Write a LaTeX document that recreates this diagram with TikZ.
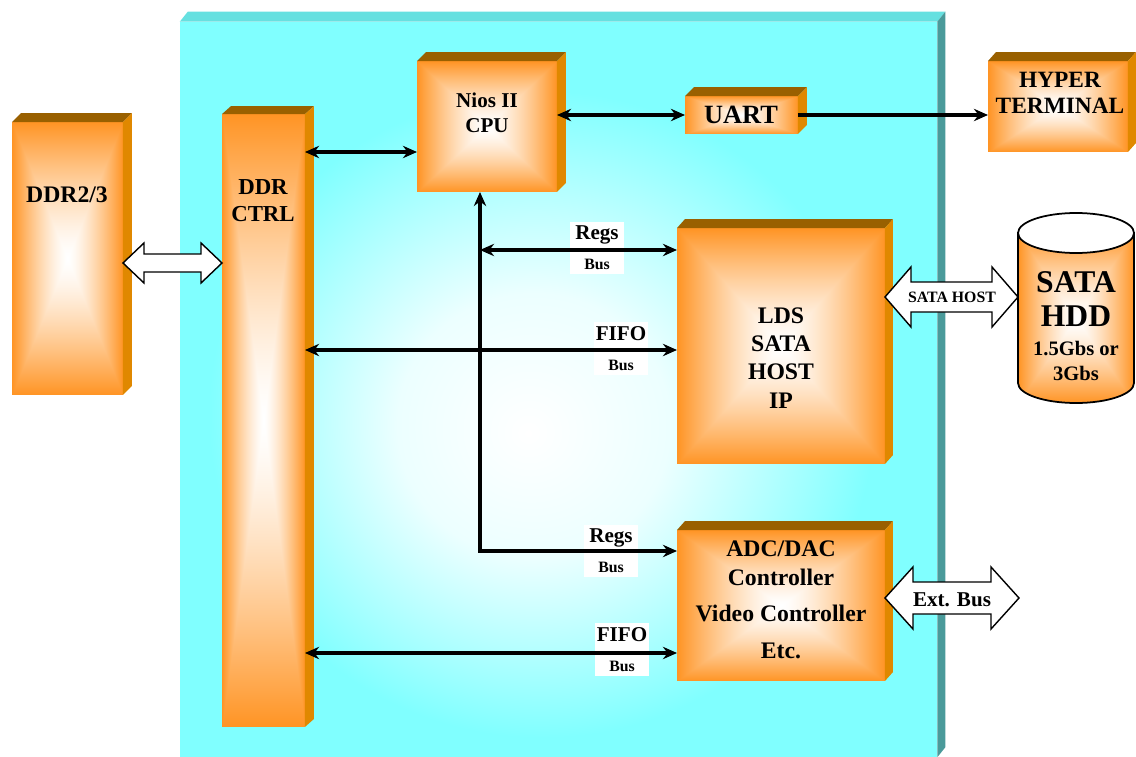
\documentclass[tikz,border=0pt]{standalone}
\usepackage{fontspec}
\setmainfont{Liberation Serif}
\usetikzlibrary{arrows.meta,calc}

\definecolor{boardcyan}{HTML}{80FFFF}
\definecolor{boardtop}{HTML}{66E0E0}
\definecolor{boardside}{HTML}{4A9A9A}
\definecolor{boxtop}{HTML}{996000}
\definecolor{boxside}{HTML}{E08800}

% orange faces, white in the middle
\pgfdeclarefunctionalshading{boxshade}{\pgfpoint{-50bp}{-50bp}}{\pgfpoint{50bp}{50bp}}{}{
  abs exch abs 2 copy lt {exch} if pop
  25 div dup 1 gt {pop 1} if 1.4 exp
  1 exch dup 0.42 mul 1 exch sub exch 0.86 mul 1 exch sub
}
\pgfdeclareradialshading{boardshade}{\pgfpoint{-2bp}{-3bp}}{color(0bp)=(white); color(9bp)=(white!85!boardcyan); color(22bp)=(boardcyan); color(50bp)=(boardcyan)}

% top and side faces of a block
\newcommand{\threed}[5]{%
  \fill[#4] (#1.north west) -- ++(#2,#3) -- ([shift={(#2,#3)}]#1.north east) -- (#1.north east) -- cycle;
  \fill[#5] (#1.north east) -- ++(#2,#3) -- ([shift={(#2,#3)}]#1.south east) -- (#1.south east) -- cycle;}

% white double arrow: from, to, head length, half head, half shaft
\newcommand{\fatarrow}[5]{%
  \draw[fatline] (#1) -- ($(#1)+(#3,-#4)$) -- ($(#1)+(#3,-#5)$) -- ($(#2)+(-#3,-#5)$) -- ($(#2)+(-#3,-#4)$)
    -- (#2) -- ($(#2)+(-#3,#4)$) -- ($(#2)+(-#3,#5)$) -- ($(#1)+(#3,#5)$) -- ($(#1)+(#3,#4)$) -- cycle;}

\tikzset{
  block/.style={shade, shading=boxshade, inner sep=0pt, outer sep=0pt},
  txt/.style 2 args={font=\bfseries\fontsize{#1}{#2}\selectfont, align=center, inner sep=0pt},
  bus/.style={line width=2.1pt, >={Stealth[length=8pt,width=7pt]}},
  buslabel/.style={fill=white, inner sep=0pt, minimum width=1.08cm, minimum height=1.06cm, align=center,
    font=\bfseries\fontsize{12}{15}\selectfont},
  fatline/.style={draw=black, line width=0.8pt, fill=white},
}

\begin{document}
\begin{tikzpicture}[x=0.02cm, y=-0.02cm]
\useasboundingbox (0,0) rectangle (1136,757);
% FPGA board
\node[shade, shading=boardshade, minimum width=15.14cm, minimum height=14.7cm, inner sep=0pt] (board) at (558.5,389.5) {};
\threed{board}{8}{-10}{boardtop}{boardside}
% memory side
\node[block, minimum width=2.22cm, minimum height=5.46cm] (ddrmem) at (67.5,258.5) {};
\threed{ddrmem}{9}{-9}{boxtop}{boxside}
\node[txt={13.5}{16}] (ddrmemtxt) at (67,195) {DDR2/3};
\node[block, minimum width=1.66cm, minimum height=12.26cm] (ddrctrl) at (263.5,420.5) {};
\threed{ddrctrl}{9}{-8}{boxtop}{boxside}
\node[txt={13}{15.5}] (ddrctrltxt) at (263,201) {DDR\\CTRL};
% processor and uart
\node[block, minimum width=2.8cm, minimum height=2.62cm] (cpu) at (487,126.5) {};
\threed{cpu}{9}{-9}{boxtop}{boxside}
\node[txt={12}{14.5}] (cputxt) at (487,113) {Nios II\\CPU};
\node[block, minimum width=2.26cm, minimum height=0.76cm] (uart) at (741.5,115) {};
\threed{uart}{9}{-9}{boxtop}{boxside}
\node[txt={15}{17}] (uarttxt) at (741,115) {UART};
\node[block, minimum width=2.8cm, minimum height=1.82cm] (hyper) at (1058,106.5) {};
\threed{hyper}{8}{-9}{boxtop}{boxside}
\node[txt={13.3}{15}] (hypertxt) at (1060,93) {HYPER\\TERMINAL};
% sata host and peripherals
\node[block, minimum width=4.16cm, minimum height=4.72cm] (sata) at (781,346) {};
\threed{sata}{8}{-9}{boxtop}{boxside}
\node[txt={13.5}{16}] (satatxt) at (781,358) {LDS\\SATA\\HOST\\IP};
\node[block, minimum width=4.16cm, minimum height=3.02cm] (adc) at (781,605.5) {};
\threed{adc}{8}{-9}{boxtop}{boxside}
\node[txt={13.5}{16.4}] (adctxt) at (781,600) {ADC/DAC\\Controller\\[4pt]Video Controller\\[5pt]Etc.};
% hard disk
\shade[shading=boxshade, draw, line width=1pt] (1018,233) -- (1018,383) arc[start angle=180, end angle=0, x radius=58, y radius=20] -- (1134,233) -- cycle;
\draw[fill=white, line width=1pt] (1076,233) ellipse [x radius=58, y radius=20];
\node[txt={18}{19.5}] (hdd) at (1076,299) {SATA\\HDD};
\node[txt={11.7}{14}] (hddrate) at (1076,361) {1.5Gbs or\\3Gbs};
% wide buses
\coordinate (hddL) at (1018,297);
\coordinate (extR) at (1019,598);
\fatarrow{ddrmem.east |- 0,263}{ddrctrl.west |- 0,263}{21}{20}{9}
\fatarrow{sata.east |- 0,297}{hddL}{26}{30}{15}
\fatarrow{adc.east |- 0,598}{extR}{28}{31}{16}
\node[txt={9}{10}] (hosttxt) at (952,297) {SATA HOST};
\node[txt={12}{13}] (exttxt) at (952,600) {Ext. Bus};
% bus labels
\node[buslabel] (regsup) at (597,248) {Regs\\[2pt]{\fontsize{9}{9}\selectfont Bus}};
\node[buslabel] (fifoup) at (621,348.5) {FIFO\\[2pt]{\fontsize{9}{9}\selectfont Bus}};
\node[buslabel] (regslow) at (611,551) {Regs\\[2pt]{\fontsize{9}{9}\selectfont Bus}};
\node[buslabel] (fifolow) at (622,649.5) {FIFO\\[2pt]{\fontsize{9}{9}\selectfont Bus}};
% connections
\coordinate (bend) at (480,551);
\coordinate (regsA) at (480,250);
\draw[bus,<->] (ddrctrl.east |- 0,152) -- (cpu.west |- 0,152);
\draw[bus,<->] (cpu.east |- uart.west) -- (uart.west);
\draw[bus,->,line width=1.9pt] (uart.east) -- (uart.east -| hyper.west);
\draw[bus,<->] (cpu.south -| bend) -- (bend) -- (bend -| adc.west);
\draw[bus,<->] (regsA) -- (regsA -| sata.west);
\draw[bus,<->] (ddrctrl.east |- 0,350) -- (sata.west |- 0,350);
\draw[bus,<->] (ddrctrl.east |- 0,653) -- (adc.west |- 0,653);
\end{tikzpicture}
\end{document}
